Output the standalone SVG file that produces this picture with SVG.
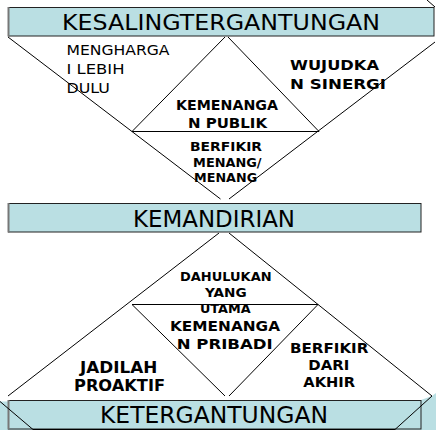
<svg xmlns="http://www.w3.org/2000/svg" width="436" height="430" viewBox="0 0 436 430">
<style>
.ln{stroke:#000;stroke-width:1;fill:none}
.bar{fill:#BADFE3;stroke:#222;stroke-width:1}
.sh{stroke:#777;stroke-width:2}
.hd{font-family:"DejaVu Sans","Liberation Sans",sans-serif;fill:#000;text-anchor:middle}
.lb{font-family:"DejaVu Sans","Liberation Sans",sans-serif;font-weight:bold;fill:#000;text-anchor:middle}
.rg{font-family:"DejaVu Sans","Liberation Sans",sans-serif;fill:#000}
</style>
<rect width="436" height="430" fill="#fff"/>
<g id="connectors">
<line class="ln" x1="427" y1="0" x2="435" y2="7"/>
<line class="ln" x1="8" y1="37" x2="220.5" y2="199"/>
<line class="ln" x1="435" y1="42" x2="229" y2="199"/>
<line class="ln" x1="132" y1="131.5" x2="225" y2="37"/>
<line class="ln" x1="228" y1="37" x2="319" y2="131.5"/>
<line class="ln" x1="132" y1="131.5" x2="319" y2="131.5"/>
<line class="ln" x1="219" y1="233" x2="8" y2="396"/>
<line class="ln" x1="229" y1="233" x2="432" y2="396"/>
<line class="ln" x1="132" y1="304.5" x2="318" y2="304.5"/>
<line class="ln" x1="132" y1="304.5" x2="225" y2="396"/>
<line class="ln" x1="318" y1="304.5" x2="229" y2="396"/>
</g>
<g id="kesalingtergantungan">
<rect class="bar" x="8.5" y="7.5" width="425.5" height="28.5"/>
<line class="sh" x1="8.5" y1="7" x2="8.5" y2="36.5"/>
<text class="hd" x="221" y="30" font-size="22" textLength="318" lengthAdjust="spacingAndGlyphs">KESALINGTERGANTUNGAN</text>
</g>
<g id="menghargai">
<text class="rg" x="66.5" y="55" font-size="14" textLength="103" lengthAdjust="spacingAndGlyphs">MENGHARGA</text>
<text class="rg" x="66.5" y="74" font-size="14" textLength="58" lengthAdjust="spacingAndGlyphs">I LEBIH</text>
<text class="rg" x="66.5" y="92.5" font-size="14" textLength="43.5" lengthAdjust="spacingAndGlyphs">DULU</text>
</g>
<g id="wujudkan">
<text class="lb" x="334.5" y="69.5" font-size="13.5" textLength="89" lengthAdjust="spacingAndGlyphs">WUJUDKA</text>
<text class="lb" x="338" y="88.5" font-size="13.5" textLength="96" lengthAdjust="spacingAndGlyphs">N SINERGI</text>
</g>
<g id="kemenangan-publik">
<text class="lb" x="227" y="110" font-size="13.5" textLength="102" lengthAdjust="spacingAndGlyphs">KEMENANGA</text>
<text class="lb" x="227.5" y="127.5" font-size="13.5" textLength="79" lengthAdjust="spacingAndGlyphs">N PUBLIK</text>
</g>
<g id="berfikir-menang">
<text class="lb" x="226" y="150.5" font-size="12.5" textLength="72" lengthAdjust="spacingAndGlyphs">BERFIKIR</text>
<text class="lb" x="227.3" y="166.5" font-size="12.5" textLength="68.5" lengthAdjust="spacingAndGlyphs">MENANG/</text>
<text class="lb" x="225.6" y="181.7" font-size="12.5" textLength="63" lengthAdjust="spacingAndGlyphs">MENANG</text>
</g>
<g id="kemandirian">
<rect class="bar" x="8.5" y="203.5" width="412.5" height="28.5"/>
<line class="sh" x1="8.5" y1="203" x2="8.5" y2="232.5"/>
<text class="hd" x="214" y="226.5" font-size="23.5" textLength="162" lengthAdjust="spacingAndGlyphs">KEMANDIRIAN</text>
</g>
<g id="dahulukan">
<text class="lb" x="225.8" y="280.7" font-size="12.5" textLength="91.7" lengthAdjust="spacingAndGlyphs">DAHULUKAN</text>
<text class="lb" x="225.8" y="296.7" font-size="12.5" textLength="41.7" lengthAdjust="spacingAndGlyphs">YANG</text>
<text class="lb" x="225.3" y="312.7" font-size="12.5" textLength="50.7" lengthAdjust="spacingAndGlyphs">UTAMA</text>
</g>
<g id="kemenangan-pribadi">
<text class="lb" x="225" y="330.7" font-size="14.5" textLength="110" lengthAdjust="spacingAndGlyphs">KEMENANGA</text>
<text class="lb" x="224.7" y="349.3" font-size="14.5" textLength="96" lengthAdjust="spacingAndGlyphs">N PRIBADI</text>
</g>
<g id="jadilah-proaktif">
<text class="lb" x="118.7" y="372.7" font-size="15" textLength="77.3" lengthAdjust="spacingAndGlyphs">JADILAH</text>
<text class="lb" x="119.5" y="391" font-size="15" textLength="91" lengthAdjust="spacingAndGlyphs">PROAKTIF</text>
</g>
<g id="berfikir-akhir">
<text class="lb" x="329.2" y="352.7" font-size="14" textLength="78.3" lengthAdjust="spacingAndGlyphs">BERFIKIR</text>
<text class="lb" x="328.8" y="370" font-size="14" textLength="41" lengthAdjust="spacingAndGlyphs">DARI</text>
<text class="lb" x="329.2" y="387.3" font-size="14" textLength="51.7" lengthAdjust="spacingAndGlyphs">AKHIR</text>
</g>
<g id="ketergantungan">
<polygon points="0,401.5 8,401.5 8,400 421,400 432,396 436,393 436,430 0,430" fill="#BADFE3"/>
<rect class="bar" x="8.5" y="400.5" width="412.5" height="28.5"/>
<line class="sh" x1="8.5" y1="400" x2="8.5" y2="429.5"/>
<line class="ln" x1="0" y1="401.5" x2="33" y2="429.5"/>
<line class="ln" x1="432" y1="396" x2="395" y2="429.5"/>
<line class="ln" x1="33" y1="429.5" x2="395" y2="429.5"/>
<text class="hd" x="214" y="422.5" font-size="23" textLength="228" lengthAdjust="spacingAndGlyphs">KETERGANTUNGAN</text>
</g>
</svg>
